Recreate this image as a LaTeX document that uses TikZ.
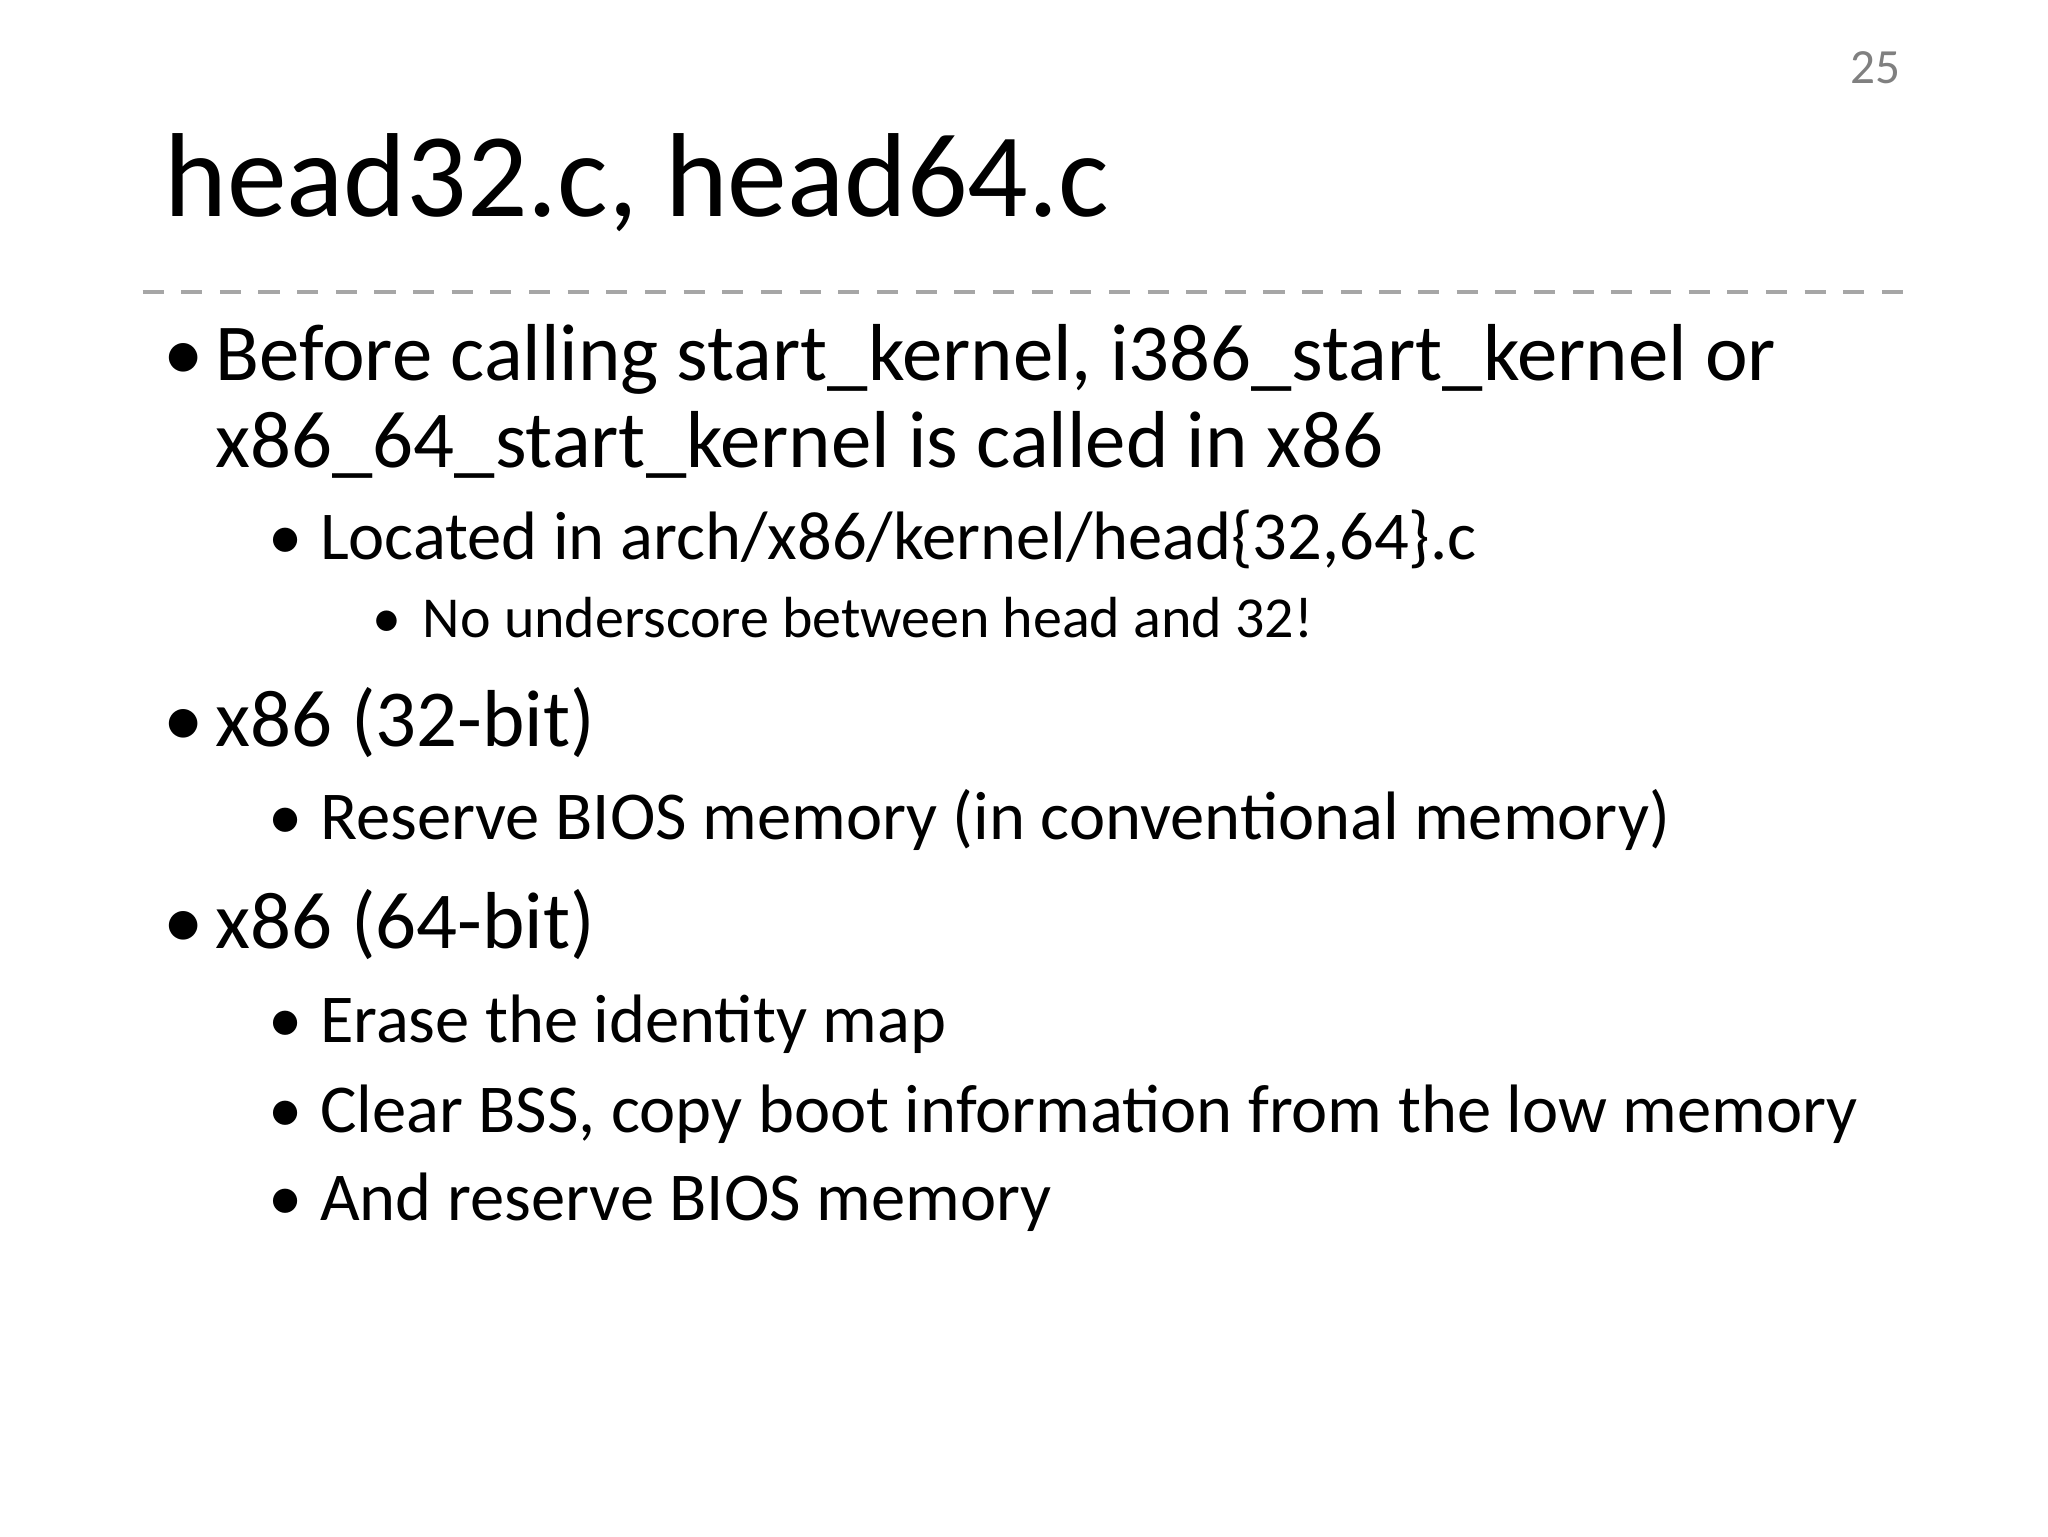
\documentclass[tikz,border=0pt]{standalone}
\usepackage{fontspec}
\setmainfont{Carlito}
\begin{document}
\begin{tikzpicture}[x=0.0132cm,y=-0.0132cm,
 lone/.style={anchor=base west,inner sep=0pt,font=\fontsize{23}{28}\selectfont},
 ltwo/.style={anchor=base west,inner sep=0pt,font=\fontsize{19.5}{24}\selectfont},
 lthree/.style={anchor=base west,inner sep=0pt,font=\fontsize{16.5}{20}\selectfont}]
\useasboundingbox (0,0) rectangle (1552,1164);
\node[anchor=base,inner sep=0pt,text=gray,font=\fontsize{14}{16}\selectfont] (pg) at (1421,63) {25};
\node[anchor=base west,inner sep=0pt,font=\fontsize{34}{40}\selectfont\addfontfeature{LetterSpace=0}] (title) at (124,164) {head32.c, head64.c};
\coordinate (dl) at (108,221); \coordinate (dr) at (1452,221);
\draw[gray!70,line width=1.2pt,dash pattern=on 6pt off 5pt] (dl) -- (dr);
% level 1
\node[lone] (b1) at (123,288) {•}; \node[lone] (t1) at (163,288) {Before calling start\_kernel, i386\_start\_kernel or};
\node[lone] (t1b) at (163,354) {x86\_64\_start\_kernel is called in x86};
\node[ltwo] (b2) at (203,424) {•}; \node[ltwo] (t2) at (242,424) {Located in arch/x86/kernel/head\{32,64\}.c};
\node[lthree] (b3) at (282,483) {•}; \node[lthree] (t3) at (320,483) {No underscore between head and 32!};
\node[lone] (b4) at (123,566) {•}; \node[lone] (t4) at (163,566) {x86 (32-bit)};
\node[ltwo] (b5) at (203,636) {•}; \node[ltwo] (t5) at (242,636) {Reserve BIOS memory (in conventional memory)};
\node[lone] (b6) at (123,719) {•}; \node[lone] (t6) at (163,719) {x86 (64-bit)};
\node[ltwo] (b7) at (203,790) {•}; \node[ltwo] (t7) at (242,790) {Erase the identity map};
\node[ltwo] (b8) at (203,858) {•}; \node[ltwo] (t8) at (242,858) {Clear BSS, copy boot information from the low memory};
\node[ltwo] (b9) at (203,925) {•}; \node[ltwo] (t9) at (242,925) {And reserve BIOS memory};
\end{tikzpicture}
\end{document}
